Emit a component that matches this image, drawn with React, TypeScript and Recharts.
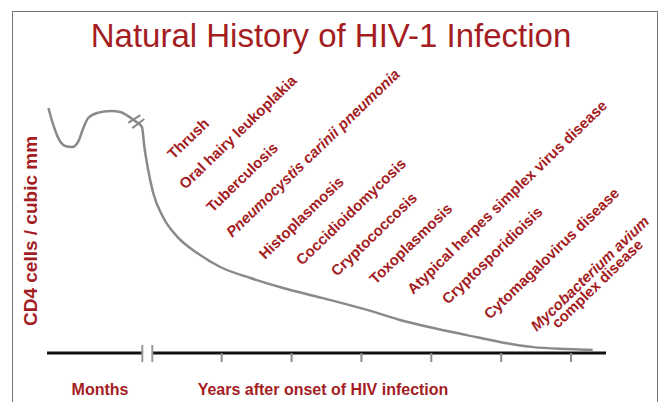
import React from 'react';
import {
  ComposedChart,
  Line,
  Scatter,
  XAxis,
  YAxis,
  ReferenceLine,
} from 'recharts';

// x axis: years after onset; the "months" inset sits left of the break (negative values)
const curveYears = [
  -1.48, -1.41, -1.34, -1.24, -1.14, -1.05, -0.98, -0.91, -0.78, -0.59, -0.45, -0.34, -0.24, -0.14,
  -0.11, -0.06, 0.02, 0.16, 0.37, 0.65, 0.98, 1.41, 1.88, 2.45, 3.08, 3.55, 4.03, 4.51, 4.98, 5.46,
  5.94, 6.31,
];
const cd4Counts = [
  1000, 931, 878, 845, 841, 865, 918, 959, 980, 988, 984, 967, 947, 922,
  849, 759, 653, 555, 473, 408, 351, 306, 265, 224, 176, 135, 102, 73, 45, 24,
  16, 12,
];

const yearTicks = [1, 2, 3, 4, 5, 6];

const diseaseNames = [
  'Thrush',
  'Oral hairy leukoplakia',
  'Tuberculosis',
  'Pneumocystis carinii pneumonia',
  'Histoplasmosis',
  'Coccidioidomycosis',
  'Cryptococcosis',
  'Toxoplasmosis',
  'Atypical herpes simplex virus disease',
  'Cryptosporidioisis',
  'Cytomagalovirus disease',
  'Mycobacterium avium\ncomplex disease',
];
const diseaseYears = [0.31, 0.48, 0.87, 1.15, 1.62, 2.15, 2.65, 3.2, 3.74, 4.24, 4.84, 5.51];
const diseaseCd4 = [788, 665, 571, 469, 380, 355, 310, 278, 237, 196, 135, 86];
const diseaseItalic = [false, false, false, true, false, false, false, false, false, false, false, true];

const curve = curveYears.map((x, i) => ({ x, y: cd4Counts[i] }));
const diseases = diseaseNames.map((name, i) => ({
  x: diseaseYears[i],
  y: diseaseCd4[i],
  name,
  italic: diseaseItalic[i],
}));

const RED = '#a31d23';
const FONT = '"Liberation Sans", Arial, sans-serif';

const renderDisease = (props: any) => {
  const { cx, cy, payload } = props;
  const lines: string[] = payload.name.split('\n');
  return (
    <text
      transform={`rotate(-44 ${cx} ${cy})`}
      x={cx}
      y={cy}
      fill={RED}
      fontSize={15}
      fontWeight="bold"
      fontFamily={FONT}
    >
      {lines.map((l, i) => (
        <tspan
          key={i}
          x={cx + (i ? 17 : 0)}
          dy={i ? 12.5 : 0}
          fontStyle={i === 0 && payload.italic ? 'italic' : 'normal'}
        >
          {l}
        </tspan>
      ))}
    </text>
  );
};

export default function App() {
  return (
    <div
      style={{
        position: 'absolute',
        left: 0,
        top: 0,
        width: 661,
        height: 402,
        background: '#fff',
        overflow: 'hidden',
      }}
    >
      <div
        style={{
          position: 'absolute',
          left: 12,
          top: 11,
          width: 644,
          height: 420,
          border: '1.5px solid #777',
          borderBottom: 'none',
        }}
      />
      <svg width={661} height={402} style={{ position: 'absolute', left: 0, top: 0 }}>
        <text x={331} y={47} textAnchor="middle" fill={RED} fontSize={33} fontFamily={FONT}>
          Natural History of HIV-1 Infection
        </text>
        <text
          transform="rotate(-90)"
          x={-231}
          y={37}
          textAnchor="middle"
          fill={RED}
          fontSize={19}
          fontWeight="bold"
          fontFamily={FONT}
        >
          CD4 cells / cubic mm
        </text>
        <text x={100} y={395} textAnchor="middle" fill={RED} fontSize={16} fontWeight="bold" fontFamily={FONT}>
          Months
        </text>
        <text x={323} y={395} textAnchor="middle" fill={RED} fontSize={16} fontWeight="bold" fontFamily={FONT}>
          Years after onset of HIV infection
        </text>
      </svg>
      <div style={{ position: 'absolute', left: 0, top: 0 }}>
        <ComposedChart
          width={661}
          height={402}
          data={curve}
          margin={{ top: 108, right: 55, bottom: 19, left: 47 }}
        >
          <XAxis
            type="number"
            dataKey="x"
            domain={[-1.5, 6.5]}
            ticks={yearTicks}
            axisLine={false}
            tickLine={{ stroke: '#8c8c8c', strokeWidth: 2 }}
            tickSize={9}
            tick={() => <g />}
            height={30}
          />
          <YAxis
            type="number"
            domain={[0, 1000]}
            width={0}
            tick={false}
            tickLine={false}
            axisLine={{ stroke: '#111', strokeWidth: 3 }}
          />
          <ReferenceLine
            segment={[{ x: -1.5, y: 0 }, { x: -0.136, y: 0 }]}
            stroke="#111"
            strokeWidth={3}
            ifOverflow="visible"
          />
          <ReferenceLine
            segment={[{ x: 0.007, y: 0 }, { x: 6.5, y: 0 }]}
            stroke="#111"
            strokeWidth={3}
            ifOverflow="visible"
          />
          <ReferenceLine
            segment={[{ x: -0.136, y: -37 }, { x: -0.136, y: 33 }]}
            stroke="#999"
            strokeWidth={2}
            ifOverflow="visible"
          />
          <ReferenceLine
            segment={[{ x: 0.007, y: -37 }, { x: 0.007, y: 33 }]}
            stroke="#999"
            strokeWidth={2}
            ifOverflow="visible"
          />
          <Line
            type="monotone"
            dataKey="y"
            stroke="#8a8a8a"
            strokeWidth={2.5}
            dot={false}
            isAnimationActive={false}
          />
          <ReferenceLine
            segment={[{ x: -0.336, y: 939 }, { x: -0.164, y: 971 }]}
            stroke="#888"
            strokeWidth={2}
            ifOverflow="visible"
          />
          <ReferenceLine
            segment={[{ x: -0.279, y: 918 }, { x: -0.107, y: 955 }]}
            stroke="#888"
            strokeWidth={2}
            ifOverflow="visible"
          />
          <Scatter data={diseases} dataKey="y" shape={renderDisease} isAnimationActive={false} />
        </ComposedChart>
      </div>
    </div>
  );
}
